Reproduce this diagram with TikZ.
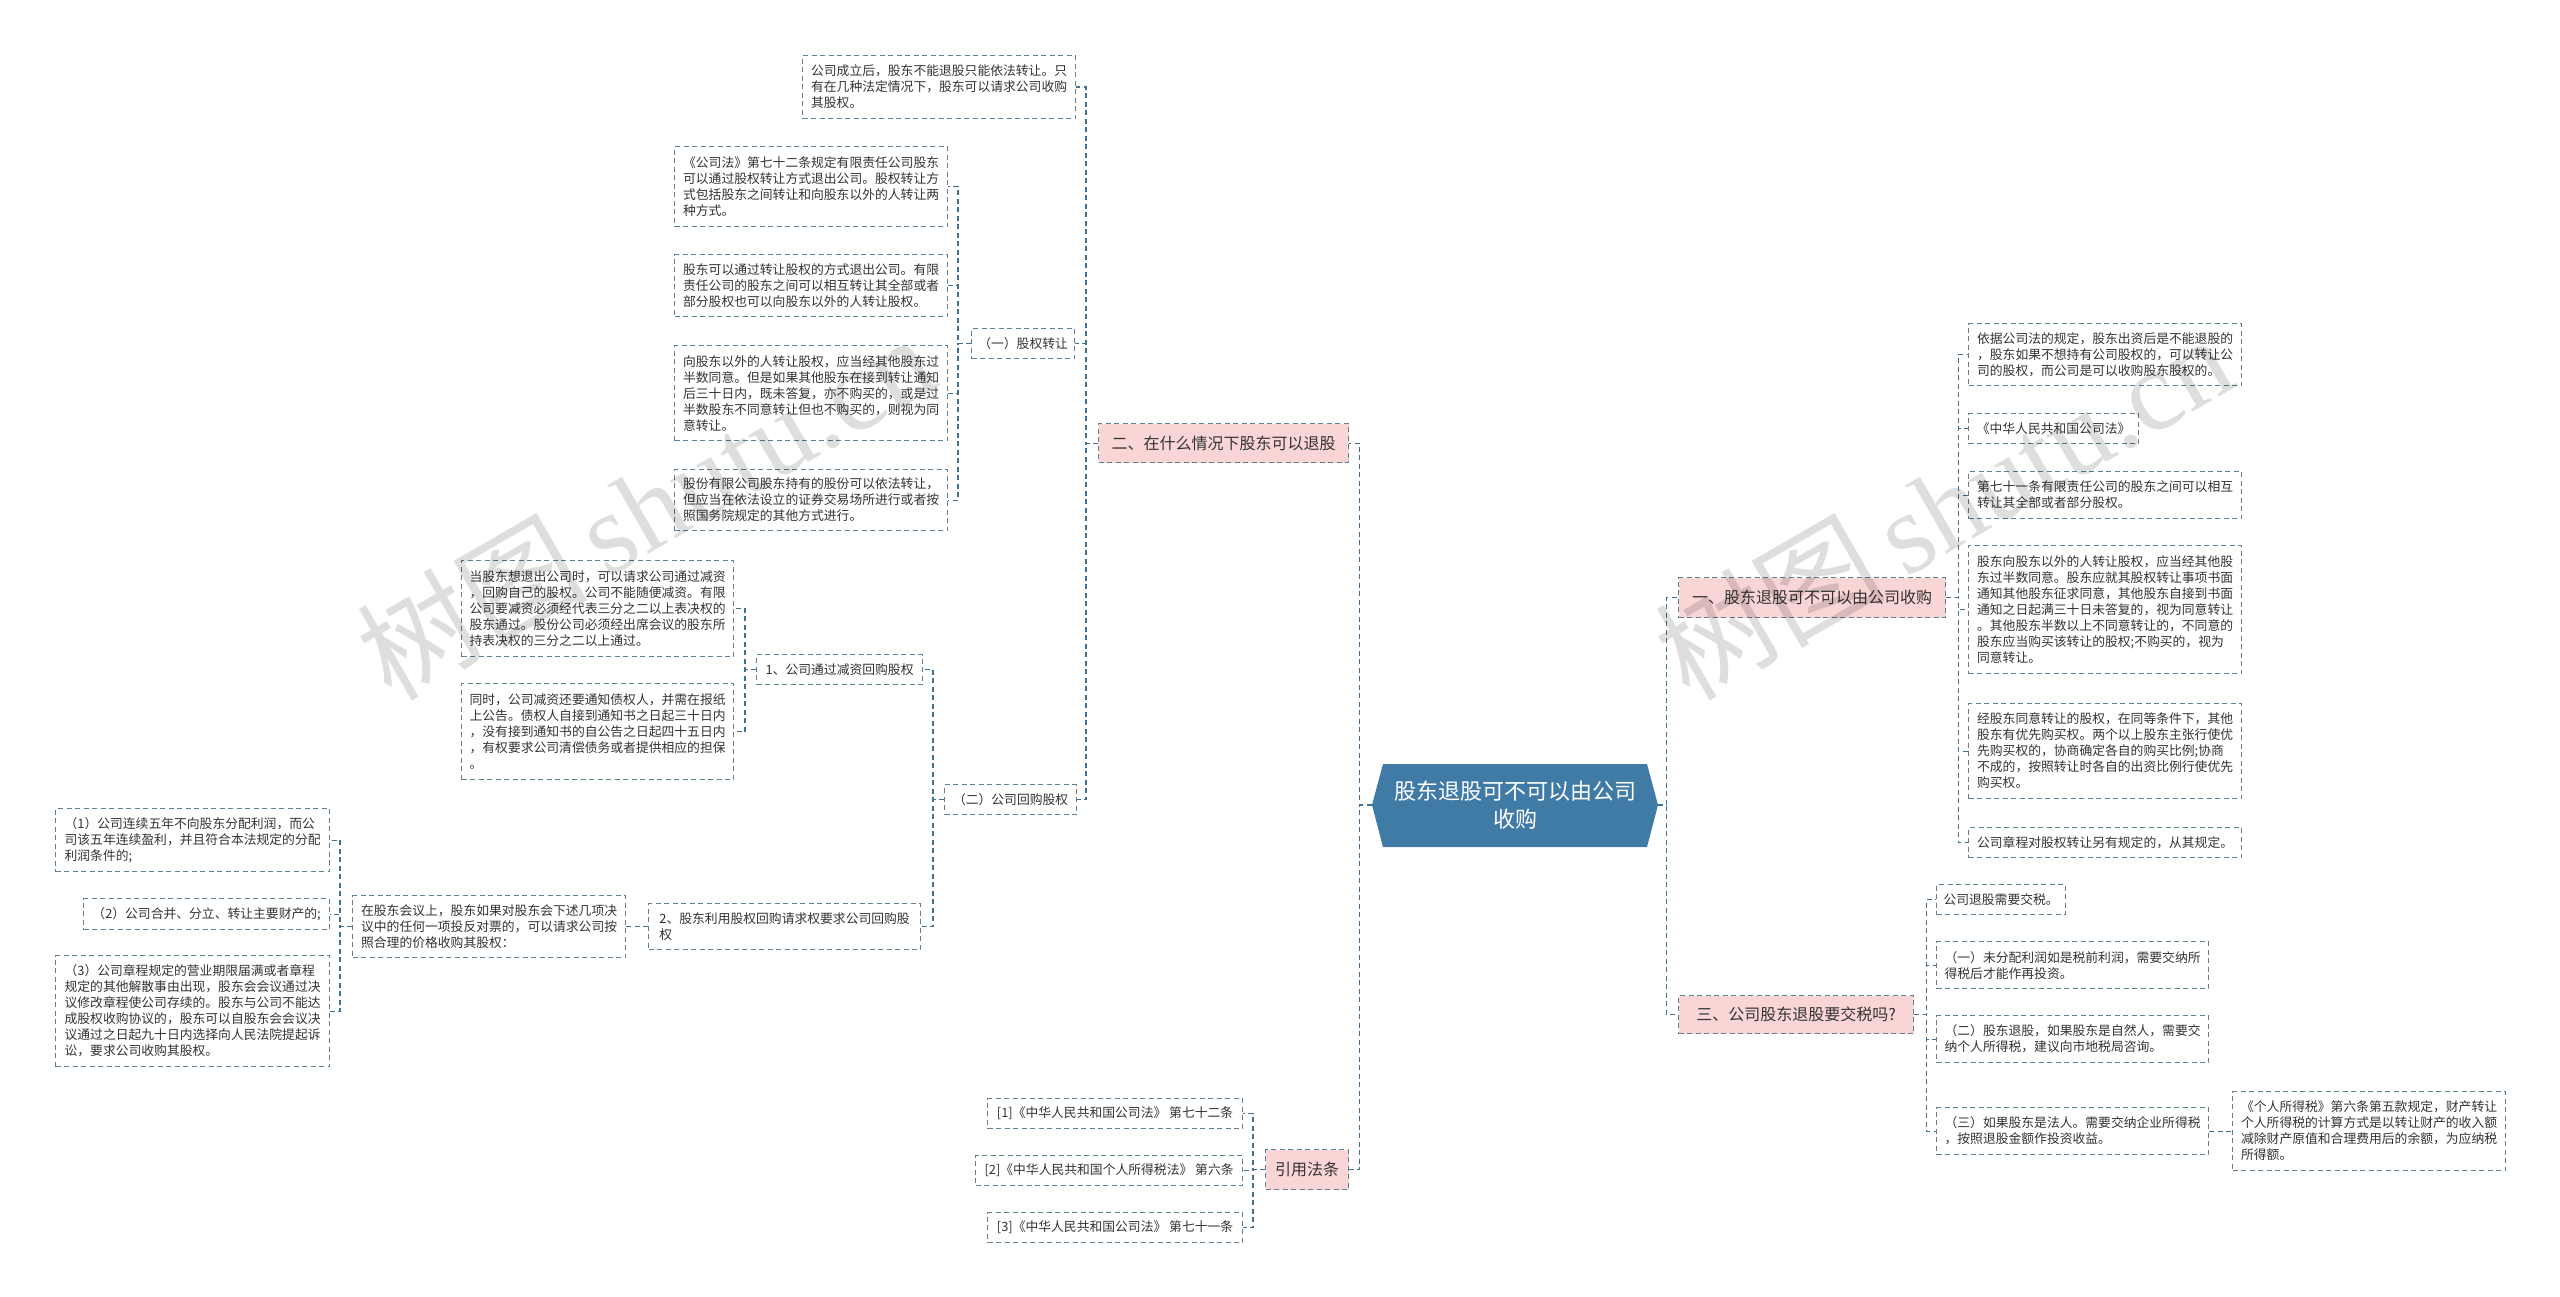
\documentclass[tikz,border=0pt]{standalone}
\usepackage{fontspec}
\setmainfont{Noto Sans CJK SC}
\newfontfamily\wmlatin{Liberation Serif}
\usetikzlibrary{calc}
\definecolor{conn}{HTML}{41718F}
\definecolor{bord}{HTML}{5E7E91}
\definecolor{pinkf}{HTML}{F9D5D5}
\definecolor{hexf}{HTML}{3F7BA4}
\definecolor{txt}{HTML}{333333}
\tikzset{
  base/.style={draw=bord, line width=1.2pt, dash pattern=on 5pt off 3.5pt, fill=white,
    anchor=north west, align=left, inner sep=0pt, text=txt,
    font=\fontsize{12.8}{16}\selectfont},
  leaf/.style={base},
  mainb/.style={base, fill=pinkf, align=center, font=\fontsize{16}{20}\selectfont},
  link/.style={draw=conn, line width=1.2pt, dash pattern=on 5pt off 3.5pt},
  wmark/.style={rotate=30, text=black, text opacity=0.13, font=\fontsize{115}{115}\selectfont},
}
\newcommand{\leafbox}[6]{\node[leaf, minimum width=#4pt, minimum height=#5pt] (#1) at (#2,#3) {#6};}
\newcommand{\mainbox}[6]{\node[mainb, minimum width=#4pt, minimum height=#5pt] (#1) at (#2,#3) {#6};}
\begin{document}
\begin{tikzpicture}[x=1pt,y=-1pt]
\fill[white] (0,0) rectangle (2560,1297);
\useasboundingbox (0,0) rectangle (2560,1297);

% centre
\fill[hexf] (1383,764) -- (1647,764) -- (1658,805) -- (1647,847) -- (1383,847) -- (1372,805) -- cycle;
\node[font=\fontsize{22}{28}\selectfont, text=white, align=center, minimum width=286pt, minimum height=83pt, inner sep=0pt] (c) at (1515,805) {股东退股可不可以由公司\\收购};

% ---------- left: 二 ----------
\mainbox{er}{1098}{423}{250}{39}{二、在什么情况下股东可以退股}
\leafbox{b1}{802}{55}{273}{63}{公司成立后，股东不能退股只能依法转让。只\\有在几种法定情况下，股东可以请求公司收购\\其股权。}
\leafbox{gq}{971}{328}{103}{30}{（一）股权转让}
\leafbox{b2}{674}{146}{273}{80}{《公司法》第七十二条规定有限责任公司股东\\可以通过股权转让方式退出公司。股权转让方\\式包括股东之间转让和向股东以外的人转让两\\种方式。}
\leafbox{b3}{674}{254}{273}{62}{股东可以通过转让股权的方式退出公司。有限\\责任公司的股东之间可以相互转让其全部或者\\部分股权也可以向股东以外的人转让股权。}
\leafbox{b4}{674}{345}{273}{95}{向股东以外的人转让股权，应当经其他股东过\\半数同意。但是如果其他股东在接到转让通知\\后三十日内，既未答复，亦不购买的，或是过\\半数股东不同意转让但也不购买的，则视为同\\意转让。}
\leafbox{b5}{674}{469}{273}{61}{股份有限公司股东持有的股份可以依法转让，\\但应当在依法设立的证券交易场所进行或者按\\照国务院规定的其他方式进行。}
\leafbox{gh}{944}{784}{132}{30}{（二）公司回购股权}
\leafbox{g1}{756}{654}{166}{30}{1、公司通过减资回购股权}
\leafbox{b6}{461}{560}{272}{96}{当股东想退出公司时，可以请求公司通过减资\\，回购自己的股权。公司不能随便减资。有限\\公司要减资必须经代表三分之二以上表决权的\\股东通过。股份公司必须经出席会议的股东所\\持表决权的三分之二以上通过。}
\leafbox{b7}{461}{683}{272}{96}{同时，公司减资还要通知债权人，并需在报纸\\上公告。债权人自接到通知书之日起三十日内\\，没有接到通知书的自公告之日起四十五日内\\，有权要求公司清偿债务或者提供相应的担保\\。}
\leafbox{g2}{648}{903}{272}{46}{2、股东利用股权回购请求权要求公司回购股\\权}
\leafbox{gm}{352}{895}{273}{62}{在股东会议上，股东如果对股东会下述几项决\\议中的任何一项投反对票的，可以请求公司按\\照合理的价格收购其股权：}
\leafbox{p1}{55}{808}{274}{63}{（1）公司连续五年不向股东分配利润，而公\\司该五年连续盈利，并且符合本法规定的分配\\利润条件的;}
\leafbox{p2}{83}{898}{246}{31}{（2）公司合并、分立、转让主要财产的;}
\leafbox{p3}{55}{955}{274}{111}{（3）公司章程规定的营业期限届满或者章程\\规定的其他解散事由出现，股东会会议通过决\\议修改章程使公司存续的。股东与公司不能达\\成股权收购协议的，股东可以自股东会会议决\\议通过之日起九十日内选择向人民法院提起诉\\讼，要求公司收购其股权。}

% ---------- left: 引用法条 ----------
\mainbox{ref}{1265}{1149}{83}{40}{引用法条}
\leafbox{r1}{987}{1098}{255}{30}{[1]《中华人民共和国公司法》 第七十二条}
\leafbox{r2}{975}{1155}{267}{30}{[2]《中华人民共和国个人所得税法》 第六条}
\leafbox{r3}{987}{1212}{255}{30}{[3]《中华人民共和国公司法》 第七十一条}

% ---------- right: 一 ----------
\mainbox{yi}{1678}{577}{267}{40}{一、股东退股可不可以由公司收购}
\leafbox{ya}{1968}{323}{273}{62}{依据公司法的规定，股东出资后是不能退股的\\，股东如果不想持有公司股权的，可以转让公\\司的股权，而公司是可以收购股东股权的。}
\leafbox{yb}{1968}{413}{170}{30}{《中华人民共和国公司法》}
\leafbox{yc}{1968}{471}{273}{47}{第七十一条有限责任公司的股东之间可以相互\\转让其全部或者部分股权。}
\leafbox{yd}{1968}{545}{273}{128}{股东向股东以外的人转让股权，应当经其他股\\东过半数同意。股东应就其股权转让事项书面\\通知其他股东征求同意，其他股东自接到书面\\通知之日起满三十日未答复的，视为同意转让\\。其他股东半数以上不同意转让的，不同意的\\股东应当购买该转让的股权;不购买的，视为\\同意转让。}
\leafbox{ye}{1968}{703}{273}{95}{经股东同意转让的股权，在同等条件下，其他\\股东有优先购买权。两个以上股东主张行使优\\先购买权的，协商确定各自的购买比例;协商\\不成的，按照转让时各自的出资比例行使优先\\购买权。}
\leafbox{yf}{1968}{827}{273}{30}{公司章程对股权转让另有规定的，从其规定。}

% ---------- right: 三 ----------
\mainbox{san}{1678}{995}{235}{38}{三、公司股东退股要交税吗?}
\leafbox{t1}{1936}{884}{129}{30}{公司退股需要交税。}
\leafbox{t2}{1936}{941}{272}{47}{（一）未分配利润如是税前利润，需要交纳所\\得税后才能作再投资。}
\leafbox{t3}{1936}{1015}{272}{47}{（二）股东退股，如果股东是自然人，需要交\\纳个人所得税，建议向市地税局咨询。}
\leafbox{t4}{1936}{1107}{272}{47}{（三）如果股东是法人。需要交纳企业所得税\\，按照退股金额作投资收益。}
\leafbox{t5}{2232}{1091}{273}{79}{《个人所得税》第六条第五款规定，财产转让\\个人所得税的计算方式是以转让财产的收入额\\减除财产原值和合理费用后的余额，为应纳税\\所得额。}

% ---------- connectors ----------
\begin{scope}[on background layer/.style={}]
\draw[link] (c.west) -- ++(-12,0) |- (er.east);
\draw[link] (c.west) -- ++(-12,0) |- (ref.east);
\draw[link] (c.east) -- ++(8,0) |- (yi.west);
\draw[link] (c.east) -- ++(8,0) |- (san.west);

\foreach \k in {b1,gq,gh} \draw[link] (er.west) -- ++(-12,0) |- (\k.east);
\foreach \k in {b2,b3,b4,b5} \draw[link] (gq.west) -- ++(-13,0) |- (\k.east);
\foreach \k in {g1,g2} \draw[link] (gh.west) -- ++(-11,0) |- (\k.east);
\foreach \k in {b6,b7} \draw[link] (g1.west) -- ++(-11,0) |- (\k.east);
\draw[link] (g2.west) -- (gm.east);
\foreach \k in {p1,p2,p3} \draw[link] (gm.west) -- ++(-12,0) |- (\k.east);
\foreach \k in {r1,r2,r3} \draw[link] (ref.west) -- ++(-12,0) |- (\k.east);

\foreach \k in {ya,yb,yc,yd,ye,yf} \draw[link] (yi.east) -- ++(12,0) |- (\k.west);
\foreach \k in {t1,t2,t3,t4} \draw[link] (san.east) -- ++(12,0) |- (\k.west);
\draw[link] (t4.east) -- (t5.west);
\end{scope}

% watermark
\node[wmark] (wm1) at (645,506) {树图\,{\wmlatin shutu.cn}};
\node[wmark] (wm2) at (1943,506) {树图\,{\wmlatin shutu.cn}};
\end{tikzpicture}
\end{document}
